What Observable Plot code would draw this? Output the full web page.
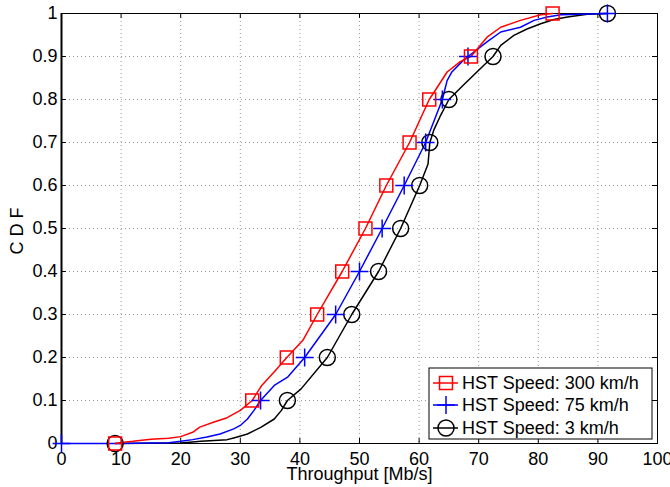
<!DOCTYPE html>
<html><head><meta charset="utf-8">
<script src="https://cdn.jsdelivr.net/npm/d3@7"></script>
<script src="https://cdn.jsdelivr.net/npm/@observablehq/plot@0.6"></script>
<style>body{margin:0;background:#fff}</style>
</head><body><div id="chart"></div>
<script>
// Tick values / labels
const xTicks = [0,10,20,30,40,50,60,70,80,90,100];
const yTicks = [0,0.1,0.2,0.3,0.4,0.5,0.6,0.7,0.8,0.9,1];
const yTickLabels = ["0","0.1","0.2","0.3","0.4","0.5","0.6","0.7","0.8","0.9","1"];

// Series names
const seriesNames = ["HST Speed: 300 km/h","HST Speed: 75 km/h","HST Speed: 3 km/h"];

// Empirical CDF curves (throughput Mb/s, CDF)
const s300X = [9,10.5,12,15,18,20,22,23.2,25.6,27.8,30,32,33.6,35.9,37.8,40.5,42.9,47.1,51,54.5,58.4,61.7,62.7,64.7,66.9,68.7,71.4,73.7,77,80.4,82.4];
const s300Y = [0,0.003,0.005,0.01,0.012,0.016,0.026,0.038,0.05,0.06,0.077,0.1,0.135,0.17,0.2,0.24,0.3,0.4,0.5,0.6,0.7,0.8,0.821,0.864,0.888,0.9,0.945,0.968,0.984,0.997,1];

const s75X = [0,9,15,18,20,22,24.4,26.6,28.9,30,31.2,32.3,33.4,35.7,38,40.8,46,50,53.8,57.5,61.1,63.9,64.7,65.5,67.4,68.2,71.5,73.7,77,79.3,81.5,83.8,87.1,91.6];
const s75Y = [0,0,0.001,0.002,0.005,0.009,0.015,0.022,0.034,0.042,0.057,0.077,0.1,0.135,0.155,0.2,0.3,0.4,0.5,0.6,0.7,0.8,0.844,0.864,0.891,0.9,0.935,0.957,0.968,0.984,0.992,0.997,0.998,1];

const s3X = [9,20,23.4,27.8,28.9,31.2,33.5,35.7,36.9,37.9,40.2,44.6,48.7,53.2,56.9,60.1,61.5,61.8,62.5,63.5,65,67.4,70.3,72.4,73.7,75.9,78.1,80.4,82.6,84.9,88.2,91.6];
const s3Y = [0,0.001,0.005,0.009,0.013,0.022,0.038,0.057,0.077,0.1,0.127,0.2,0.3,0.4,0.5,0.6,0.65,0.7,0.73,0.76,0.8,0.833,0.872,0.9,0.926,0.949,0.964,0.976,0.986,0.992,0.998,1];

// Marker positions (deciles)
const cdfLevels = [0,0.1,0.2,0.3,0.4,0.5,0.6,0.7,0.8,0.9,1];
const q300 = [9,32.0,37.8,42.9,47.1,51.0,54.5,58.4,61.7,68.7,82.4];
const q75  = [0,33.4,40.8,46.0,50.0,53.8,57.5,61.1,63.9,68.2,91.6];
const q3   = [9,37.9,44.6,48.7,53.2,56.9,60.1,61.8,65.0,72.4,91.6];

const W = 670, H = 487, mL = 61, mR = 13, mT = 13, mB = 44;
const pw = W - mL - mR, ph = H - mT - mB, tick = 5;
const FONT = "'Liberation Sans', Arial, Helvetica, sans-serif";

const toPts = (xs, ys) => xs.map((x, i) => ({x, y: ys[i]}));
const c300 = toPts(s300X, s300Y), c75 = toPts(s75X, s75Y), c3 = toPts(s3X, s3Y);
const m300 = toPts(q300, cdfLevels), m75 = toPts(q75, cdfLevels), m3 = toPts(q3, cdfLevels);

const styles = [
  {color: "#ff0000", symbol: "square", r: 7.3},
  {color: "#0000ff", symbol: "plus", r: 5.8},
  {color: "#000000", symbol: "circle", r: 8}
];

const chart = Plot.plot({
  width: W, height: H,
  marginLeft: mL, marginRight: mR, marginTop: mT, marginBottom: mB,
  style: {fontFamily: FONT, fontSize: "18px", background: "#fff", color: "#000", overflow: "visible"},
  x: {domain: [0, 100]},
  y: {domain: [0, 1]},
  marks: [
    Plot.ruleX(xTicks.slice(1, -1), {stroke: "#9a9a9a", strokeDasharray: "1,3", strokeWidth: 1}),
    Plot.ruleY(yTicks.slice(1, -1), {stroke: "#9a9a9a", strokeDasharray: "1,3", strokeWidth: 1}),
    // inside ticks on all four sides
    Plot.tickX(xTicks, {x: d => d, insetTop: ph - tick, stroke: "#000"}),
    Plot.tickX(xTicks, {x: d => d, insetBottom: ph - tick, stroke: "#000"}),
    Plot.tickY(yTicks, {y: d => d, insetRight: pw - tick, stroke: "#000"}),
    Plot.tickY(yTicks, {y: d => d, insetLeft: pw - tick, stroke: "#000"}),
    Plot.axisX({ticks: xTicks, tickSize: 0, tickPadding: 9, tickFormat: d => String(d), label: null, fontSize: 18}),
    Plot.axisY({ticks: yTicks, tickSize: 0, tickPadding: 4, tickFormat: (d, i) => yTickLabels[i], label: null, fontSize: 18}),
    Plot.frame({stroke: "#000", strokeWidth: 1}),
    Plot.ruleX([0], {stroke: "#000", strokeWidth: 2}),
    Plot.text(["Throughput [Mb/s]"], {frameAnchor: "bottom", dy: 36, fontSize: 18, fill: "#000"}),
    // curves
    Plot.line(c3, {x: "x", y: "y", stroke: styles[2].color, strokeWidth: 1.5}),
    Plot.line(c75, {x: "x", y: "y", stroke: styles[1].color, strokeWidth: 1.5}),
    Plot.line(c300, {x: "x", y: "y", stroke: styles[0].color, strokeWidth: 1.5}),
    Plot.dot(m3, {x: "x", y: "y", symbol: "circle", r: styles[2].r, stroke: styles[2].color, fill: "none", strokeWidth: 1.5}),
    Plot.dot(m75, {x: "x", y: "y", symbol: "plus", r: styles[1].r, stroke: styles[1].color, fill: "none", strokeWidth: 1.5}),
    Plot.dot(m300, {x: "x", y: "y", symbol: "square", r: styles[0].r, stroke: styles[0].color, fill: "none", strokeWidth: 1.5})
  ]
});
document.getElementById("chart").appendChild(chart);

const svg = d3.select(chart);
// y-axis title
svg.append("text").attr("transform", "translate(17,231) rotate(-90)")
  .attr("text-anchor", "middle").attr("dy", "0.35em")
  .attr("font-family", FONT).attr("font-size", 18).attr("fill", "#000").text("C D F");

// Legend (inside plot, bottom-right)
const lg = svg.append("g").attr("font-family", FONT).attr("font-size", 18).attr("text-anchor", "start");
const bx = 429, by = 368, bw = 223, bh = 71;
lg.append("rect").attr("x", bx).attr("y", by).attr("width", bw).attr("height", bh)
  .attr("fill", "#fff").attr("stroke", "#000").attr("stroke-width", 1);
const rowY = [383, 405, 428];
const symMap = {square: d3.symbolSquare, plus: d3.symbolPlus, circle: d3.symbolCircle};
seriesNames.forEach((name, i) => {
  const s = styles[i], y = rowY[i];
  lg.append("line").attr("x1", bx + 4).attr("x2", bx + 29).attr("y1", y).attr("y2", y)
    .attr("stroke", s.color).attr("stroke-width", 1.5);
  lg.append("path").attr("d", d3.symbol(symMap[s.symbol], Math.PI * s.r * s.r)())
    .attr("transform", `translate(${bx + 17},${y})`)
    .attr("fill", "none").attr("stroke", s.color).attr("stroke-width", 1.5);
  lg.append("text").attr("x", bx + 33).attr("y", y).attr("dy", "0.35em").attr("fill", "#000").text(name);
});
</script>
</body></html>
